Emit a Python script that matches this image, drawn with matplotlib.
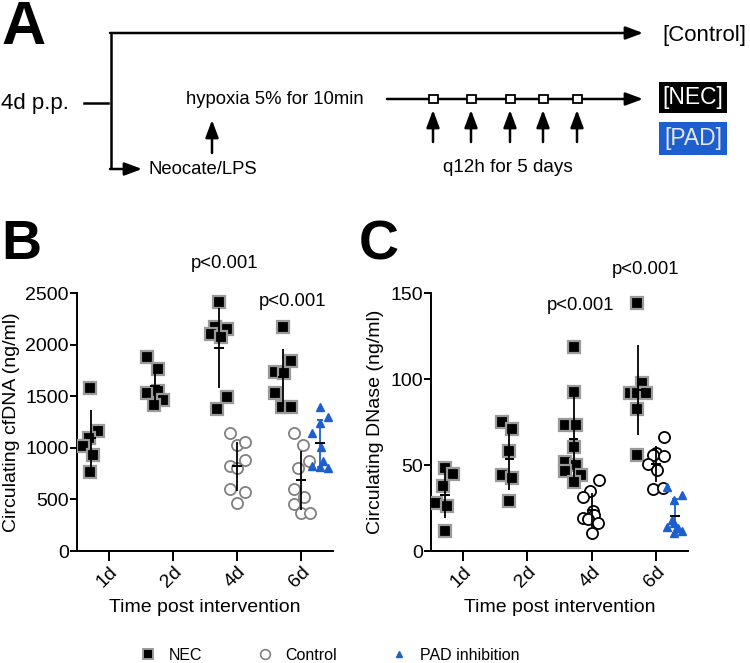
import numpy as np
import matplotlib
matplotlib.use("Agg")
import matplotlib.pyplot as plt
from matplotlib.lines import Line2D
from matplotlib.patches import Rectangle

plt.rcParams['font.family'] = ['Liberation Sans', 'DejaVu Sans']

# ---------------- data ----------------
categories = ['1d', '2d', '4d', '6d']
y_ticks_b = [0, 500, 1000, 1500, 2000, 2500]
y_ticks_c = [0, 50, 100, 150]

# Panel B: circulating cfDNA (ng/ml)
nec_b_1d = [1577, 1166, 1092, 1017, 930, 770]
nec_b_2d = [1883, 1764, 1534, 1553, 1463, 1415]
nec_b_4d = [2416, 2167, 2148, 2103, 2071, 1489, 1373]
nec_b_6d = [2167, 1844, 1738, 1722, 1528, 1392, 1392]
ctrl_b_4d = [1146, 1027, 1053, 882, 824, 801, 601, 575, 462]
ctrl_b_6d = [1140, 1027, 875, 807, 598, 526, 455, 371, 371]
pad_b_6d = [1392, 1296, 1243, 1140, 1011, 875, 824, 817, 801]

# Panel C: circulating DNase (ng/ml)
nec_c_1d = [48.1, 44.6, 38.0, 28.1, 26.2, 11.6]
nec_c_2d = [74.9, 70.8, 58.2, 44.2, 42.3, 29.1]
nec_c_4d = [118.8, 92.4, 73.0, 73.0, 60.3, 51.6, 50.1, 46.6, 43.9, 40.0]
nec_c_6d = [144.0, 97.9, 92.0, 91.7, 92.0, 82.4, 55.8]
ctrl_c_4d = [41.3, 35.1, 31.6, 23.5, 21.0, 19.0, 18.4, 16.1, 10.7]
ctrl_c_6d = [66.5, 57.2, 55.8, 55.4, 50.6, 47.1, 35.9, 36.4]
pad_c_6d = [37.4, 32.6, 29.5, 18.0, 16.0, 13.8, 13.2, 11.8, 10.3]

# horizontal scatter of each point around its category
jit_nec_b_1d = [-0.30, -0.17, -0.32, -0.40, -0.25, -0.30]
jit_nec_b_2d = [-0.40, -0.24, -0.40, -0.23, -0.16, -0.30]
jit_nec_b_4d = [-0.28, -0.35, -0.16, -0.41, -0.25, -0.16, -0.31]
jit_nec_b_6d = [-0.28, -0.16, -0.41, -0.26, -0.41, -0.29, -0.15]
jit_ctrl_b_4d = [-0.11, 0.0, 0.13, 0.13, -0.11, 0.0, -0.11, 0.13, 0.0]
jit_ctrl_b_6d = [-0.11, 0.03, 0.13, -0.04, -0.11, 0.04, -0.11, 0.0, 0.14]
jit_pad_b_6d = [0.30, 0.42, 0.29, 0.17, 0.32, 0.35, 0.17, 0.29, 0.42]

jit_nec_c_1d = [-0.28, -0.16, -0.32, -0.42, -0.25, -0.28]
jit_nec_c_2d = [-0.40, -0.24, -0.28, -0.40, -0.24, -0.28]
jit_nec_c_4d = [-0.28, -0.28, -0.41, -0.24, -0.28, -0.41, -0.24, -0.41, -0.16, -0.28]
jit_nec_c_6d = [-0.29, -0.22, -0.41, -0.29, -0.15, -0.29, -0.29]
jit_ctrl_c_4d = [0.11, -0.03, -0.13, 0.02, 0.04, -0.13, -0.06, 0.10, 0.0]
jit_ctrl_c_6d = [0.13, 0.0, -0.04, 0.13, -0.12, 0.02, -0.04, 0.11]
jit_pad_c_6d = [0.17, 0.40, 0.28, 0.25, 0.28, 0.18, 0.35, 0.40, 0.28]

# ---------------- style ----------------
BLUE = '#1d5fcf'
NEC_OFF, CTRL_OFF, PAD_OFF = -0.28, 0.0, 0.30

W, H = 750, 663
fig = plt.figure(figsize=(W / 100, H / 100), dpi=100)

# overlay for panel A / letters
ov = fig.add_axes([0, 0, 1, 1], zorder=0)
ov.set_xlim(0, W)
ov.set_ylim(H, 0)
ov.axis('off')


def arrow(x0, y0, x1, y1):
    ov.annotate('', xy=(x1, y1), xytext=(x0, y0),
                arrowprops=dict(arrowstyle='-|>,head_length=0.75,head_width=0.28',
                                lw=1.8, color='k', shrinkA=0, shrinkB=0,
                                mutation_scale=14))


ov.text(1, 28, 'A', fontsize=44, fontweight='bold', va='center', ha='left')
ov.plot([111, 111], [33, 169], color='k', lw=1.8, solid_capstyle='butt')
arrow(110, 33, 643, 33)
ov.text(662, 36, '[Control]', fontsize=16, va='center', ha='left')
ov.text(1, 103, '4d p.p.', fontsize=16, va='center', ha='left')
ov.plot([84, 108], [103, 103], color='k', lw=1.8)
arrow(110, 169, 142, 169)
ov.text(149, 169, 'Neocate/LPS', fontsize=13.3, va='center', ha='left')
ov.text(186, 100, 'hypoxia 5% for 10min', fontsize=13.3, va='center', ha='left')
arrow(212, 153, 212, 120)
arrow(387, 99, 643, 99)
sq_x = [433, 471, 510, 543, 577]
for sx in sq_x:
    ov.add_patch(Rectangle((sx - 4.5, 95), 9, 8, fc='white', ec='k', lw=1.3, zorder=3))
    arrow(sx, 142, sx, 110)
ov.text(508, 168, 'q12h for 5 days', fontsize=13.6, va='center', ha='center')
ov.add_patch(Rectangle((659, 82), 68, 31, fc='black', ec='none'))
ov.text(693, 97.5, '[NEC]', fontsize=16.5, color='white', va='center', ha='center')
ov.add_patch(Rectangle((659, 122), 68, 33, fc=BLUE, ec='none'))
ov.text(693, 138.5, '[PAD]', fontsize=16.5, color='#e8e8e8', va='center', ha='center')

ov.text(1, 245, 'B', fontsize=40, fontweight='bold', va='center', ha='left')
ov.text(359, 245, 'C', fontsize=40, fontweight='bold', va='center', ha='left')


def setup_axes(ax, yticks, ylabel):
    ax.set_xlim(-0.5, 3.5)
    ax.set_ylim(yticks[0], yticks[-1])
    ax.set_yticks(yticks)
    ax.set_xticks(range(len(categories)))
    ax.set_xticklabels(categories, rotation=45, ha='right', rotation_mode='anchor')
    for s in ['top', 'right']:
        ax.spines[s].set_visible(False)
    for s in ['left', 'bottom']:
        ax.spines[s].set_linewidth(1.4)
    ax.tick_params(axis='y', length=5, width=1.4, labelsize=14, pad=1)
    ax.tick_params(axis='x', length=7, width=1.4, labelsize=14, pad=2)
    ax.set_ylabel(ylabel, fontsize=14, labelpad=4)
    ax.set_xlabel('Time post intervention', fontsize=14, labelpad=6)
    ax.patch.set_alpha(0)


def group(ax, cat_idx, vals, jit, off, kind, ctrl_color):
    x = cat_idx + np.array(jit)
    v = np.array(vals)
    if kind == 'nec':
        ax.plot(x, v, 's', ms=8.5, mfc='black', mec='#9a9a9a', mew=1.6, ls='none', zorder=3)
        ecol, cap = 'black', 0
    elif kind == 'ctrl':
        ax.plot(x, v, 'o', ms=8, mfc='white', mec=ctrl_color, mew=1.3, ls='none', zorder=3)
        ecol, cap = 'black', 0
    else:
        ax.plot(x, v, '^', ms=6, color=BLUE, ls='none', zorder=3)
        ecol, cap = BLUE, 2.5
    m = v.mean()
    sd = v.std(ddof=1)
    xc = cat_idx + off
    ax.errorbar([xc], [m], yerr=[sd], fmt='none', ecolor=ecol, elinewidth=1.3,
                capsize=cap, capthick=1.3, zorder=4)
    ax.hlines(m, xc - 0.075, xc + 0.075, color='black', lw=1.4, zorder=5)


# ---------------- panel B ----------------
axb = fig.add_axes([77 / W, 1 - 551 / H, 256 / W, 258 / H], zorder=1)
setup_axes(axb, y_ticks_b, 'Circulating cfDNA (ng/ml)')
group(axb, 0, nec_b_1d, jit_nec_b_1d, NEC_OFF, 'nec', None)
group(axb, 1, nec_b_2d, jit_nec_b_2d, NEC_OFF, 'nec', None)
group(axb, 2, nec_b_4d, jit_nec_b_4d, NEC_OFF, 'nec', None)
group(axb, 3, nec_b_6d, jit_nec_b_6d, NEC_OFF, 'nec', None)
group(axb, 2, ctrl_b_4d, jit_ctrl_b_4d, CTRL_OFF, 'ctrl', '#808080')
group(axb, 3, ctrl_b_6d, jit_ctrl_b_6d, CTRL_OFF, 'ctrl', '#808080')
group(axb, 3, pad_b_6d, jit_pad_b_6d, PAD_OFF, 'pad', None)
ov.text(225, 263, 'p<0.001', fontsize=13.3, ha='center', va='center')
ov.text(293, 302, 'p<0.001', fontsize=13.3, ha='center', va='center')

# ---------------- panel C ----------------
axc = fig.add_axes([431 / W, 1 - 551 / H, 257 / W, 258 / H], zorder=1)
setup_axes(axc, y_ticks_c, 'Circulating DNase (ng/ml)')
group(axc, 0, nec_c_1d, jit_nec_c_1d, NEC_OFF, 'nec', None)
group(axc, 1, nec_c_2d, jit_nec_c_2d, NEC_OFF, 'nec', None)
group(axc, 2, nec_c_4d, jit_nec_c_4d, NEC_OFF, 'nec', None)
group(axc, 3, nec_c_6d, jit_nec_c_6d, NEC_OFF, 'nec', None)
group(axc, 2, ctrl_c_4d, jit_ctrl_c_4d, CTRL_OFF, 'ctrl', 'black')
group(axc, 3, ctrl_c_6d, jit_ctrl_c_6d, CTRL_OFF, 'ctrl', 'black')
group(axc, 3, pad_c_6d, jit_pad_c_6d, PAD_OFF, 'pad', None)
ov.text(581, 305, 'p<0.001', fontsize=13.3, ha='center', va='center')
ov.text(646, 270, 'p<0.001', fontsize=13.3, ha='center', va='center')

# ---------------- legend ----------------
handles = [
    Line2D([], [], marker='s', ls='none', ms=6.5, mfc='black', mec='#9a9a9a', mew=1.4),
    Line2D([], [], marker='o', ls='none', ms=7, mfc='white', mec='#808080', mew=1.2),
    Line2D([], [], marker='^', ls='none', ms=5, color=BLUE),
]
fig.legend(handles, ['NEC', 'Control', 'PAD inhibition'], loc='center',
           bbox_to_anchor=(330 / W, 1 - 655 / H), ncol=3, frameon=False,
           fontsize=11.5, handlelength=1.0, handletextpad=0.8, columnspacing=3.4,
           borderpad=0, borderaxespad=0)

fig.savefig('out.png', dpi=100)
